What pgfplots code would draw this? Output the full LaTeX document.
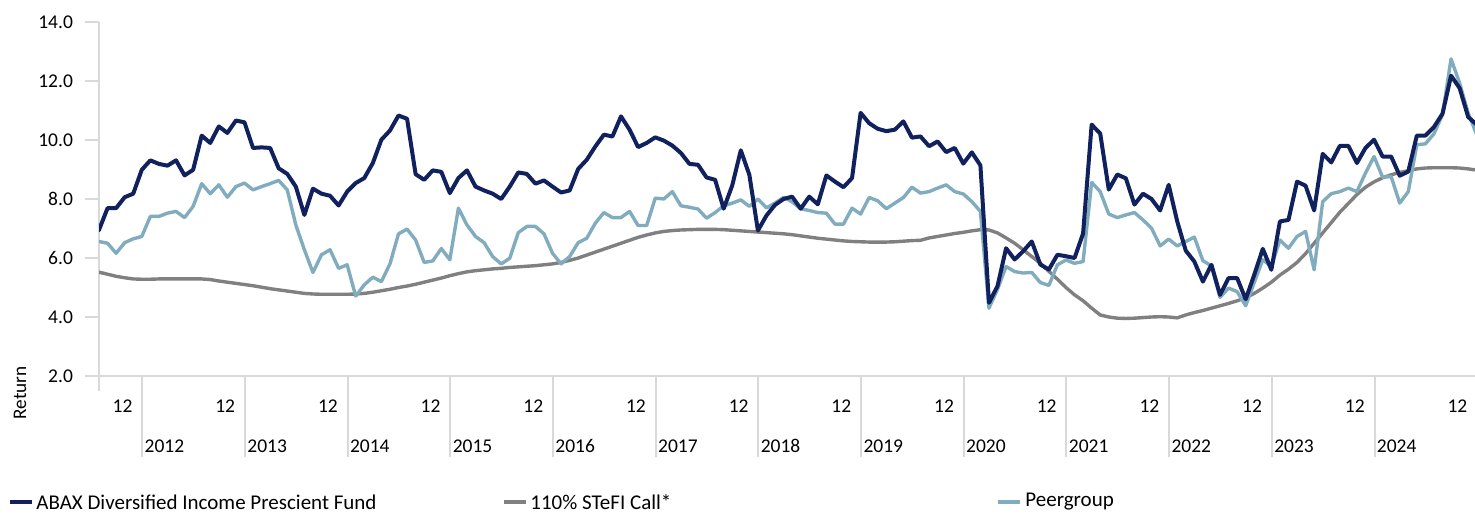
\documentclass[border=0pt]{standalone}
\usepackage{pgfplots}
\usepackage{pgfplotstable}
\pgfplotsset{compat=1.18}
\usepackage{fontspec}
\setmainfont{Carlito}
\definecolor{navy}{RGB}{16,33,94}
\definecolor{peer}{RGB}{128,172,190}
\definecolor{stefi}{RGB}{128,128,128}
\definecolor{axisgray}{RGB}{217,217,217}

\pgfplotstableread{
i fund stefi peer
0 6.95 5.52 6.56
1 7.69 5.45 6.50
2 7.69 5.38 6.16
3 8.06 5.33 6.52
4 8.18 5.29 6.65
5 8.99 5.28 6.73
6 9.31 5.28 7.41
7 9.19 5.29 7.41
8 9.13 5.29 7.52
9 9.31 5.29 7.58
10 8.80 5.29 7.37
11 8.99 5.29 7.75
12 10.15 5.29 8.52
13 9.90 5.27 8.18
14 10.46 5.22 8.48
15 10.24 5.18 8.06
16 10.66 5.14 8.42
17 10.60 5.10 8.54
18 9.73 5.06 8.31
19 9.75 5.01 8.42
20 9.73 4.96 8.52
21 9.04 4.92 8.63
22 8.85 4.88 8.31
23 8.42 4.84 7.12
24 7.46 4.80 6.28
25 8.35 4.78 5.51
26 8.18 4.77 6.11
27 8.11 4.77 6.28
28 7.78 4.77 5.65
29 8.25 4.77 5.77
30 8.54 4.78 4.71
31 8.71 4.80 5.09
32 9.22 4.84 5.35
33 10.01 4.89 5.20
34 10.32 4.94 5.80
35 10.83 5.00 6.82
36 10.72 5.05 6.98
37 8.84 5.11 6.61
38 8.65 5.18 5.85
39 8.97 5.25 5.90
40 8.92 5.32 6.32
41 8.20 5.40 5.94
42 8.71 5.47 7.69
43 8.97 5.53 7.12
44 8.42 5.57 6.73
45 8.29 5.60 6.52
46 8.18 5.63 6.05
47 8.00 5.65 5.80
48 8.42 5.68 5.99
49 8.90 5.70 6.86
50 8.85 5.72 7.07
51 8.52 5.74 7.07
52 8.63 5.77 6.82
53 8.42 5.80 6.16
54 8.22 5.85 5.80
55 8.29 5.92 6.05
56 9.02 6.00 6.52
57 9.33 6.10 6.67
58 9.78 6.20 7.18
59 10.18 6.30 7.54
60 10.12 6.40 7.37
61 10.80 6.50 7.37
62 10.35 6.60 7.58
63 9.76 6.70 7.10
64 9.90 6.78 7.10
65 10.09 6.85 8.03
66 9.98 6.90 8.00
67 9.81 6.93 8.25
68 9.56 6.95 7.77
69 9.19 6.96 7.72
70 9.16 6.97 7.66
71 8.73 6.97 7.35
72 8.65 6.97 7.54
73 7.67 6.96 7.77
74 8.46 6.94 7.86
75 9.65 6.92 7.97
76 8.82 6.90 7.75
77 6.93 6.88 8.00
78 7.44 6.86 7.70
79 7.80 6.84 7.86
80 8.00 6.82 8.06
81 8.08 6.79 7.90
82 7.67 6.75 7.67
83 8.08 6.71 7.61
84 7.82 6.67 7.54
85 8.80 6.64 7.52
86 8.59 6.61 7.15
87 8.40 6.58 7.15
88 8.71 6.56 7.69
89 10.92 6.55 7.49
90 10.57 6.54 8.05
91 10.38 6.54 7.94
92 10.30 6.54 7.67
93 10.35 6.55 7.86
94 10.63 6.57 8.05
95 10.08 6.59 8.40
96 10.12 6.60 8.20
97 9.79 6.68 8.25
98 9.95 6.73 8.37
99 9.59 6.78 8.48
100 9.73 6.83 8.25
101 9.20 6.87 8.17
102 9.58 6.92 7.91
103 9.14 6.96 7.58
104 4.48 6.95 4.30
105 5.05 6.85 4.94
106 6.33 6.68 5.71
107 5.95 6.50 5.54
108 6.23 6.28 5.49
109 6.56 6.05 5.51
110 5.78 5.82 5.17
111 5.61 5.55 5.07
112 6.11 5.28 5.77
113 6.06 5.00 5.93
114 6.00 4.75 5.82
115 6.83 4.55 5.88
116 10.52 4.30 8.56
117 10.22 4.07 8.25
118 8.32 4.00 7.49
119 8.83 3.96 7.37
120 8.70 3.95 7.46
121 7.81 3.96 7.54
122 8.18 3.98 7.29
123 8.00 4.00 7.01
124 7.61 4.01 6.41
125 8.48 4.00 6.64
126 7.24 3.97 6.41
127 6.25 4.07 6.56
128 5.88 4.15 6.71
129 5.20 4.22 5.91
130 5.77 4.30 5.73
131 4.75 4.38 4.67
132 5.32 4.46 4.98
133 5.32 4.55 4.86
134 4.60 4.65 4.38
135 5.43 4.80 5.17
136 6.31 4.98 5.94
137 5.60 5.18 5.71
138 7.24 5.42 6.61
139 7.29 5.62 6.33
140 8.59 5.85 6.73
141 8.45 6.15 6.90
142 7.61 6.50 5.60
143 9.53 6.85 7.91
144 9.24 7.20 8.18
145 9.80 7.55 8.25
146 9.80 7.85 8.37
147 9.22 8.15 8.25
148 9.73 8.40 8.88
149 10.01 8.58 9.44
150 9.44 8.72 8.74
151 9.44 8.82 8.76
152 8.79 8.90 7.86
153 8.93 8.96 8.25
154 10.15 9.02 9.84
155 10.15 9.05 9.87
156 10.44 9.06 10.21
157 10.89 9.06 10.86
158 12.18 9.06 12.75
159 11.76 9.05 11.93
160 10.78 9.02 10.91
161 10.52 8.98 10.18
}\data

\begin{document}
\begin{tikzpicture}[x=1pt,y=1pt]
\useasboundingbox (0,0) rectangle (737.5,257);
\begin{axis}[
  at={(49.5pt,69pt)}, anchor=south west,
  width=688pt, height=177pt, scale only axis,
  xmin=0, xmax=160.8, ymin=2, ymax=14,
  axis x line*=bottom, axis y line*=left,
  axis line style={draw=axisgray, line width=1pt, -},
  xtick=\empty,
  ytick={2,4,...,14},
  tick align=outside, major tick length=7pt,
  ytick style={draw=axisgray, line width=1pt},
  yticklabel style={xshift=-2.5pt, /pgf/number format/.cd, fixed, fixed zerofill, precision=1, assume math mode=true},
  tick label style={font=\fontsize{9.75}{11}\selectfont, text=black},
  clip mode=individual,
  every axis plot/.append style={line join=round, line cap=round},
]
\addplot[stefi, line width=1.7pt, mark=none] table[x=i, y=stefi] {\data};
\addplot[peer, line width=1.7pt, mark=none] table[x=i, y=peer] {\data};
\addplot[navy, line width=2pt, mark=none] table[x=i, y=fund] {\data};

\draw[axisgray, line width=1pt] (axis cs:0,2) -- (axis cs:0,1.5);
\pgfplotsinvokeforeach{0,...,13}{
  \draw[axisgray, line width=1pt] (axis cs:{5.06+12*#1},2) -- ++(0pt,-40.5pt);
  \node[font=\fontsize{9.75}{11}\selectfont, inner sep=0pt] at (axis cs:{2.75+12*#1},2) [yshift=-15.25pt] {12};
}
\pgfplotsinvokeforeach{2012,...,2024}{
  \node[font=\fontsize{9.75}{11}\selectfont, inner sep=0pt, anchor=west] at (axis cs:{5.06+12*(#1-2012)},2) [xshift=1pt, yshift=-35pt] {#1};
}
\end{axis}
\node[rotate=90, font=\fontsize{9.6}{11}\selectfont, inner sep=0pt] at (10,60.5) {Return};
\draw[navy, line width=2pt] (5,6) -- (16,6);
\node[anchor=west, inner sep=0pt, font=\fontsize{10.5}{12}\selectfont] at (18,6) {ABAX Diversified Income Prescient Fund};
\draw[stefi, line width=2pt] (252,6) -- (263,6);
\node[anchor=west, inner sep=0pt, font=\fontsize{10.5}{12}\selectfont] at (265,6) {110\% STeFI Call*};
\draw[peer, line width=2pt] (499,6) -- (510,6);
\node[anchor=west, inner sep=0pt, font=\fontsize{10.5}{12}\selectfont] at (512.5,6) {Peergroup};
\end{tikzpicture}
\end{document}
